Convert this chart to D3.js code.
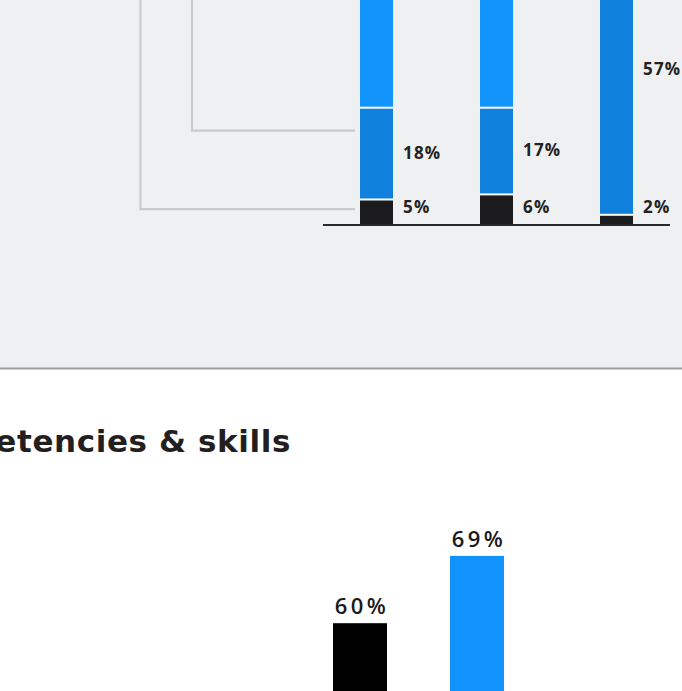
<!DOCTYPE html>
<html>
<head>
<meta charset="utf-8">
<script src="https://cdn.jsdelivr.net/npm/d3@7"></script>
<style>
  html, body { margin: 0; padding: 0; background: #ffffff; }
  svg { display: block; }
</style>
</head>
<body>
<div id="chart"></div>
<script>
// ---- Data (top stacked chart) ----
const topCategories = ["A", "B", "C"];
const seriesBlack = [5, 6, 2];        // bottom segment
const seriesDark  = [18, 17, 57];     // middle segment
const seriesLight = [77, 77, 41];     // top segment (mostly off-view)
const labelBlack = ["5%", "6%", "2%"];
const labelDark  = ["18%", "17%", "57%"];

// ---- Data (bottom chart) ----
const bottomCategories = ["Group 1", "Group 2"];
const bottomValues = [60, 69];
const bottomLabels = ["60%", "69%"];
const bottomTitle = "Competencies & skills";

const W = 682, H = 691;
const svg = d3.select("#chart").append("svg").attr("width", W).attr("height", H);

// Background panel of top section
svg.append("rect").attr("x", 0).attr("y", 0).attr("width", W).attr("height", 368).attr("fill", "#eff0f2");
svg.append("line").attr("x1", 0).attr("x2", W).attr("y1", 368.5).attr("y2", 368.5)
  .attr("stroke", "#9c9c9c").attr("stroke-width", 2);

// ---- Top stacked bars ----
const xTop = d3.scaleBand().domain(topCategories).range([360, 633]).paddingInner(87 / 120).paddingOuter(0);
const yTop = d3.scaleLinear().domain([0, 100]).range([225, -285]);

const rows = topCategories.map((c, i) => ({ cat: c, black: seriesBlack[i], dark: seriesDark[i], light: seriesLight[i] }));
const stack = d3.stack().keys(["black", "dark", "light"])(rows);
const colors = { black: "#1b1b1d", dark: "#0f80db", light: "#1195fd" };

const gTop = svg.append("g");
stack.forEach(layer => {
  gTop.selectAll(null).data(layer).enter().append("rect")
    .attr("x", d => xTop(d.data.cat))
    .attr("width", xTop.bandwidth())
    .attr("y", d => yTop(d[1]))
    .attr("height", d => yTop(d[0]) - yTop(d[1]))
    .attr("fill", colors[layer.key]);
});
// white separators between segments
stack.slice(0, 2).forEach(layer => {
  gTop.selectAll(null).data(layer).enter().append("rect")
    .attr("x", d => xTop(d.data.cat))
    .attr("width", xTop.bandwidth())
    .attr("y", d => yTop(d[1]) - 1)
    .attr("height", 2)
    .attr("fill", "#ffffff");
});

// Leader lines (legend connectors) from above
const leaders = [
  { x: 140.5, v: 0 + seriesBlack[0] * 0.62 },
  { x: 192, v: seriesBlack[0] + seriesDark[0] * 0.75 }
];
leaders.forEach(l => {
  const yy = yTop(l.v);
  svg.append("path")
    .attr("d", `M${l.x},-5 V${yy} H${xTop(topCategories[0]) - 5}`)
    .attr("fill", "none").attr("stroke", "#c9cacd").attr("stroke-width", 2.2);
});

// baseline
svg.append("line").attr("x1", 323).attr("x2", 670)
  .attr("y1", yTop(0)).attr("y2", yTop(0))
  .attr("stroke", "#2a2a2c").attr("stroke-width", 2);

// segment labels
const labelFont = "'Open Sans', sans-serif";
function addSegLabels(layerIdx, labels) {
  gTop.selectAll(null).data(stack[layerIdx]).enter().append("text")
    .attr("x", d => xTop(d.data.cat) + xTop.bandwidth() + 10)
    .attr("y", d => Math.min((yTop(d[0]) + yTop(d[1])) / 2 - 1, 206.5))
    .attr("dy", "0.36em")
    .attr("font-family", labelFont)
    .attr("font-weight", 700)
    .attr("font-size", 17)
    .attr("letter-spacing", 1.2)
    .attr("fill", "#222222")
    .text((d, i) => labels[i]);
}
addSegLabels(0, labelBlack);
addSegLabels(1, labelDark);

// ---- Bottom section ----
svg.append("text")
  .attr("x", 291).attr("y", 452)
  .attr("text-anchor", "end")
  .attr("font-family", "'DejaVu Sans', sans-serif")
  .attr("font-weight", 700)
  .attr("font-size", 31)
  .attr("letter-spacing", 0.6)
  .attr("fill", "#231f20")
  .text(bottomTitle);

const xBot = d3.scaleBand().domain(bottomCategories).range([333, 504]).paddingInner(63 / 117).paddingOuter(0);
const yBot = d3.scaleLinear().domain([0, 100]).range([1072, 324]);
const botColors = ["#000000", "#1193fe"];

svg.selectAll(".bbar").data(bottomValues).enter().append("rect")
  .attr("x", (d, i) => xBot(bottomCategories[i]))
  .attr("width", xBot.bandwidth())
  .attr("y", d => yBot(d))
  .attr("height", d => yBot(0) - yBot(d))
  .attr("fill", (d, i) => botColors[i]);

svg.selectAll(".blab").data(bottomValues).enter().append("text")
  .attr("x", (d, i) => xBot(bottomCategories[i]) + xBot.bandwidth() / 2 + 2)
  .attr("y", d => yBot(d) - 9)
  .attr("text-anchor", "middle")
  .attr("font-family", labelFont)
  .attr("font-weight", 600)
  .attr("font-size", 22)
  .attr("letter-spacing", 3.5)
  .attr("fill", "#1a1a1a")
  .text((d, i) => bottomLabels[i]);
</script>
</body>
</html>
